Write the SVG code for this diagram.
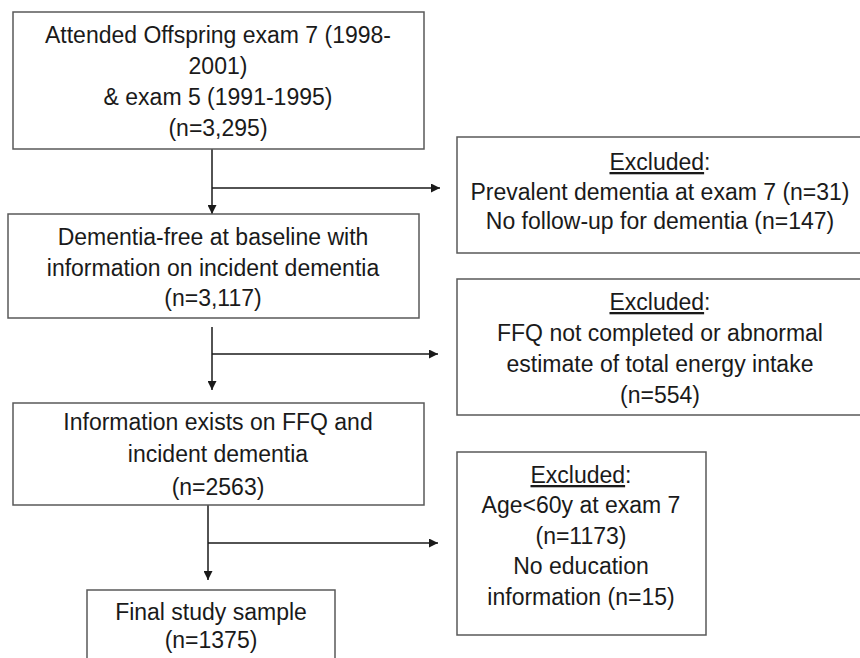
<svg xmlns="http://www.w3.org/2000/svg" width="860" height="658" viewBox="0 0 860 658">
<style>
.box{fill:#fff;stroke:#595959;stroke-width:1.5}
.t{font-family:"Liberation Sans",Arial,sans-serif;font-size:23px;fill:#1a1a1a;text-anchor:middle}
.u{text-decoration:underline}
.c{fill:none;stroke:#1a1a1a;stroke-width:1.5}
</style>
<defs>
<marker id="ah" viewBox="0 0 10 10" refX="10" refY="5" markerWidth="6" markerHeight="6" markerUnits="strokeWidth" orient="auto">
<path d="M0,0 L10,5 L0,10 z" fill="#1a1a1a"/>
</marker>
</defs>
<rect width="860" height="658" fill="#fff"/>
<g id="connectors">
<line class="c" x1="212" y1="149" x2="212" y2="214" marker-end="url(#ah)"/>
<line class="c" x1="212" y1="188" x2="440" y2="188" marker-end="url(#ah)"/>
<line class="c" x1="212" y1="327" x2="212" y2="390" marker-end="url(#ah)"/>
<line class="c" x1="212" y1="354" x2="438" y2="354" marker-end="url(#ah)"/>
<line class="c" x1="208" y1="505" x2="208" y2="580" marker-end="url(#ah)"/>
<line class="c" x1="208" y1="543" x2="438" y2="543" marker-end="url(#ah)"/>
</g>
<g id="n1">
<rect class="box" x="13" y="12" width="411" height="137"/>
<text class="t" x="218" y="43">Attended Offspring exam 7 (1998-</text>
<text class="t" x="218" y="74">2001)</text>
<text class="t" x="218" y="105">&amp; exam 5 (1991-1995)</text>
<text class="t" x="218" y="136">(n=3,295)</text>
</g>
<g id="n2">
<rect class="box" x="8" y="214" width="411" height="104"/>
<text class="t" x="213" y="245">Dementia-free at baseline with</text>
<text class="t" x="213" y="276">information on incident dementia</text>
<text class="t" x="213" y="306">(n=3,117)</text>
</g>
<g id="n3">
<rect class="box" x="13" y="403" width="411" height="102"/>
<text class="t" x="218" y="430">Information exists on FFQ and</text>
<text class="t" x="218" y="462">incident dementia</text>
<text class="t" x="218" y="495">(n=2563)</text>
</g>
<g id="n4">
<rect class="box" x="87" y="590" width="248" height="80"/>
<text class="t" x="211" y="620">Final study sample</text>
<text class="t" x="211" y="648">(n=1375)</text>
</g>
<g id="e1">
<rect class="box" x="457" y="137" width="406" height="116"/>
<text class="t" x="660" y="170"><tspan class="u">Excluded</tspan>:</text>
<text class="t" x="660" y="200">Prevalent dementia at exam 7 (n=31)</text>
<text class="t" x="660" y="229">No follow-up for dementia (n=147)</text>
</g>
<g id="e2">
<rect class="box" x="457" y="279" width="406" height="136"/>
<text class="t" x="660" y="310"><tspan class="u">Excluded</tspan>:</text>
<text class="t" x="660" y="341">FFQ not completed or abnormal</text>
<text class="t" x="660" y="372">estimate of total energy intake</text>
<text class="t" x="660" y="403">(n=554)</text>
</g>
<g id="e3">
<rect class="box" x="457" y="452" width="249" height="183"/>
<text class="t" x="581" y="483"><tspan class="u">Excluded</tspan>:</text>
<text class="t" x="581" y="513">Age&lt;60y at exam 7</text>
<text class="t" x="581" y="544">(n=1173)</text>
<text class="t" x="581" y="574">No education</text>
<text class="t" x="581" y="605">information (n=15)</text>
</g>
</svg>
